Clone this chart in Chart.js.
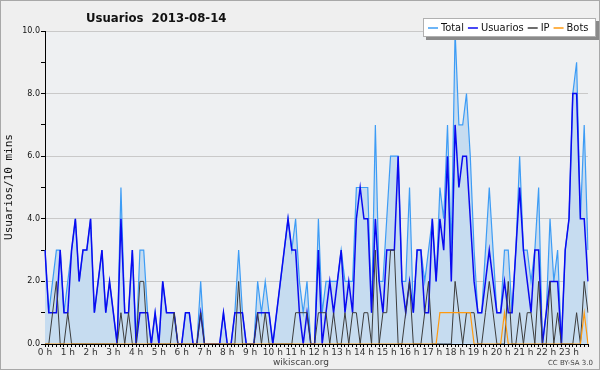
<!DOCTYPE html>
<html>
<head>
<meta charset="utf-8">
<script src="https://cdn.jsdelivr.net/npm/chart.js@4"></script>
<style>
  html, body { margin: 0; padding: 0; background: #efefef; }
  canvas { display: block; }
</style>
</head>
<body>
<canvas id="chart" width="600" height="370"></canvas>
<script>
// 10-minute slots, 6 per hour, 24 hours
const hours = ["0 h", "1 h", "2 h", "3 h", "4 h", "5 h", "6 h", "7 h", "8 h", "9 h", "10 h", "11 h",
  "12 h", "13 h", "14 h", "15 h", "16 h", "17 h", "18 h", "19 h", "20 h", "21 h", "22 h", "23 h"];

const total = [
  3, 1, 2, 3, 3, 1,  2, 3, 4, 2, 3, 3,  4, 1, 2, 3, 1, 2,  1, 0, 5, 1, 1, 3,
  0, 3, 3, 1, 0, 1,  0, 2, 1, 1, 1, 0,  0, 1, 1, 0, 0, 2,  0, 0, 0, 0, 0, 1,
  0, 0, 1, 3, 1, 0,  0, 0, 2, 1, 2, 1,  0, 1, 2, 3, 4, 3,  4, 2, 1, 2, 0, 0,
  4, 1, 2, 2, 2, 2,  3, 2, 2, 2, 5, 5,  5, 5, 1, 7, 2, 2,  4, 6, 6, 6, 2, 2,
  5, 1, 3, 3, 2, 3,  4, 2, 5, 4, 7, 3,  10, 7, 7, 8, 6, 3,  1, 1, 3, 5, 3, 1,
  1, 3, 3, 1, 3, 6,  3, 3, 2, 3, 5, 0,  1, 4, 2, 3, 0, 3,  4, 8, 9, 4, 7, 3
];
const usuarios = [
  3, 1, 1, 1, 3, 1,  1, 3, 4, 2, 3, 3,  4, 1, 2, 3, 1, 2,  1, 0, 4, 1, 1, 3,
  0, 1, 1, 1, 0, 1,  0, 2, 1, 1, 1, 0,  0, 1, 1, 0, 0, 1,  0, 0, 0, 0, 0, 1,
  0, 0, 1, 1, 1, 0,  0, 0, 1, 1, 1, 1,  0, 1, 2, 3, 4, 3,  3, 1, 0, 1, 0, 0,
  3, 0, 1, 2, 1, 2,  3, 1, 2, 1, 4, 5,  4, 4, 1, 4, 2, 1,  3, 3, 3, 6, 2, 1,
  2, 1, 3, 3, 1, 1,  4, 2, 4, 3, 6, 2,  7, 5, 6, 6, 4, 2,  1, 1, 2, 3, 2, 1,
  1, 2, 1, 1, 3, 5,  3, 2, 1, 3, 3, 0,  1, 2, 2, 2, 0, 3,  4, 8, 8, 4, 4, 2
];
const ip = [
  0, 0, 1, 2, 0, 0,  1, 0, 0, 0, 0, 0,  0, 0, 0, 0, 0, 0,  0, 0, 1, 0, 1, 0,
  0, 2, 2, 0, 0, 0,  0, 0, 0, 0, 1, 0,  0, 0, 0, 0, 0, 1,  0, 0, 0, 0, 0, 0,
  0, 0, 0, 2, 0, 0,  0, 0, 1, 0, 1, 0,  0, 0, 0, 0, 0, 0,  1, 1, 1, 1, 0, 0,
  1, 1, 1, 0, 1, 0,  0, 1, 0, 1, 1, 0,  1, 1, 0, 3, 0, 1,  1, 3, 3, 0, 0, 1,
  2, 0, 0, 0, 1, 2,  0, 0, 0, 0, 0, 0,  2, 1, 0, 1, 1, 1,  0, 0, 1, 2, 1, 0,
  0, 0, 2, 0, 0, 1,  0, 1, 1, 0, 2, 0,  0, 2, 0, 1, 0, 0,  0, 0, 1, 0, 2, 1
];
const bots = [
  0, 0, 0, 0, 0, 0,  0, 0, 0, 0, 0, 0,  0, 0, 0, 0, 0, 0,  0, 0, 0, 0, 0, 0,
  0, 0, 0, 0, 0, 0,  0, 0, 0, 0, 0, 0,  0, 0, 0, 0, 0, 0,  0, 0, 0, 0, 0, 0,
  0, 0, 0, 0, 0, 0,  0, 0, 0, 0, 0, 0,  0, 0, 0, 0, 0, 0,  0, 0, 0, 0, 0, 0,
  0, 0, 0, 0, 0, 0,  0, 0, 0, 0, 0, 0,  0, 0, 0, 0, 0, 0,  0, 0, 0, 0, 0, 0,
  0, 0, 0, 0, 0, 0,  0, 0, 1, 1, 1, 1,  1, 1, 1, 1, 1, 0,  0, 0, 0, 0, 0, 0,
  0, 1, 0, 0, 0, 0,  0, 0, 0, 0, 0, 0,  0, 0, 0, 0, 0, 0,  0, 0, 0, 0, 1, 0
];

const yTicks = [0, 2, 4, 6, 8, 10];

const slots = [];
hours.forEach((h) => { for (let k = 0; k < 6; k++) slots.push(k === 0 ? h : ""); });

const FONT = '"DejaVu Sans", sans-serif';
Chart.defaults.font.family = FONT;

const frame = {
  id: "frame",
  beforeDraw(chart) {
    const { ctx, chartArea: a } = chart;
    ctx.save();
    ctx.fillStyle = "#efefef";
    ctx.fillRect(0, 0, chart.width, chart.height);
    ctx.fillStyle = "#eef0f2";
    ctx.fillRect(a.left, a.top, a.right - a.left + 2, a.bottom - a.top);
    ctx.restore();
  },
  afterDraw(chart) {
    const { ctx } = chart;
    ctx.save();
    ctx.strokeStyle = "#a8a8a8";
    ctx.lineWidth = 1;
    ctx.strokeRect(0.5, 0.5, chart.width - 1, chart.height - 1);

    // title
    ctx.fillStyle = "#111";
    ctx.font = 'bold 13px "DejaVu Sans Condensed", ' + FONT;
    ctx.textBaseline = "alphabetic";
    ctx.fillText("Usuarios  2013-08-14", 86, 22);

    // y axis title
    ctx.save();
    ctx.translate(12, 187);
    ctx.rotate(-Math.PI / 2);
    ctx.font = '11px "DejaVu Sans Mono", monospace';
    ctx.textAlign = "center";
    ctx.fillStyle = "#111";
    ctx.fillText("Usuarios/10 mins", 0, 0);
    ctx.restore();

    // footer
    ctx.font = "9px " + FONT;
    ctx.fillStyle = "#444";
    ctx.textAlign = "center";
    ctx.fillText("wikiscan.org", 301, 365);
    ctx.font = "7px " + FONT;
    ctx.textAlign = "right";
    ctx.fillText("CC BY-SA 3.0", 593, 365);

    // legend box
    const bx = 423, by = 18, bw = 173, bh = 19;
    ctx.fillStyle = "#8a8a8a";
    ctx.fillRect(bx + 3, by + 3, bw, bh);
    ctx.fillStyle = "#ffffff";
    ctx.fillRect(bx, by, bw, bh);
    ctx.strokeStyle = "#b0b0b0";
    ctx.strokeRect(bx + 0.5, by + 0.5, bw - 1, bh - 1);
    ctx.font = '11px "DejaVu Sans Condensed", ' + FONT;
    ctx.textAlign = "left";
    ctx.textBaseline = "middle";
    let x = bx + 5;
    const ly = by + bh / 2;
    chart.data.datasets.forEach((ds) => {
      ctx.strokeStyle = ds.borderColor;
      ctx.lineWidth = 1.5;
      ctx.beginPath();
      ctx.moveTo(x, ly + 0.5);
      ctx.lineTo(x + 10, ly + 0.5);
      ctx.stroke();
      ctx.fillStyle = "#111";
      ctx.fillText(ds.label, x + 13, ly + 1);
      x += 13 + ctx.measureText(ds.label).width + 4;
    });
    ctx.restore();
  }
};

new Chart(document.getElementById("chart"), {
  type: "line",
  data: {
    labels: slots,
    datasets: [
      { label: "Total", data: total, borderColor: "#3d9cf5", backgroundColor: "#c6dcf0",
        fill: "origin", borderWidth: 1.2, order: 4 },
      { label: "Usuarios", data: usuarios, borderColor: "#0a0af0", borderWidth: 1.5,
        fill: false, order: 3 },
      { label: "IP", data: ip, borderColor: "#3c3c3c", borderWidth: 1, fill: false, order: 2 },
      { label: "Bots", data: bots, borderColor: "#ff9a10", borderWidth: 1.2, fill: false, order: 1 }
    ]
  },
  options: {
    responsive: false,
    animation: false,
    devicePixelRatio: 1,
    layout: { padding: { left: 0, right: 12, top: 31, bottom: 0 } },
    elements: { point: { radius: 0 }, line: { tension: 0 } },
    plugins: { legend: { display: false }, title: { display: false }, tooltip: { enabled: false } },
    scales: {
      x: {
        type: "category",
        offset: false,
        afterFit: (s) => { s.height = 26; },
        grid: { display: true, drawOnChartArea: false, drawTicks: true, tickLength: 3, tickColor: "#000" },
        border: { display: true, color: "#000", width: 1 },
        ticks: { autoSkip: false, maxRotation: 0, minRotation: 0, padding: 0,
          color: "#333", font: { size: 9 }, callback: (v, i) => slots[i] }
      },
      y: {
        min: 0,
        max: 10,
        afterFit: (s) => { s.width = 45; },
        grid: {
          color: (c) => (yTicks.includes(c.tick.value) ? "#c9c9c9" : "rgba(0,0,0,0)"),
          tickColor: "#000", tickLength: 4, drawTicks: true
        },
        border: { display: true, color: "#000", width: 1 },
        ticks: { stepSize: 1, padding: 1, color: "#111", font: { size: 8 },
          callback: (v) => (yTicks.includes(v) ? v.toFixed(1) : "") }
      }
    }
  },
  plugins: [frame]
});
</script>
</body>
</html>
